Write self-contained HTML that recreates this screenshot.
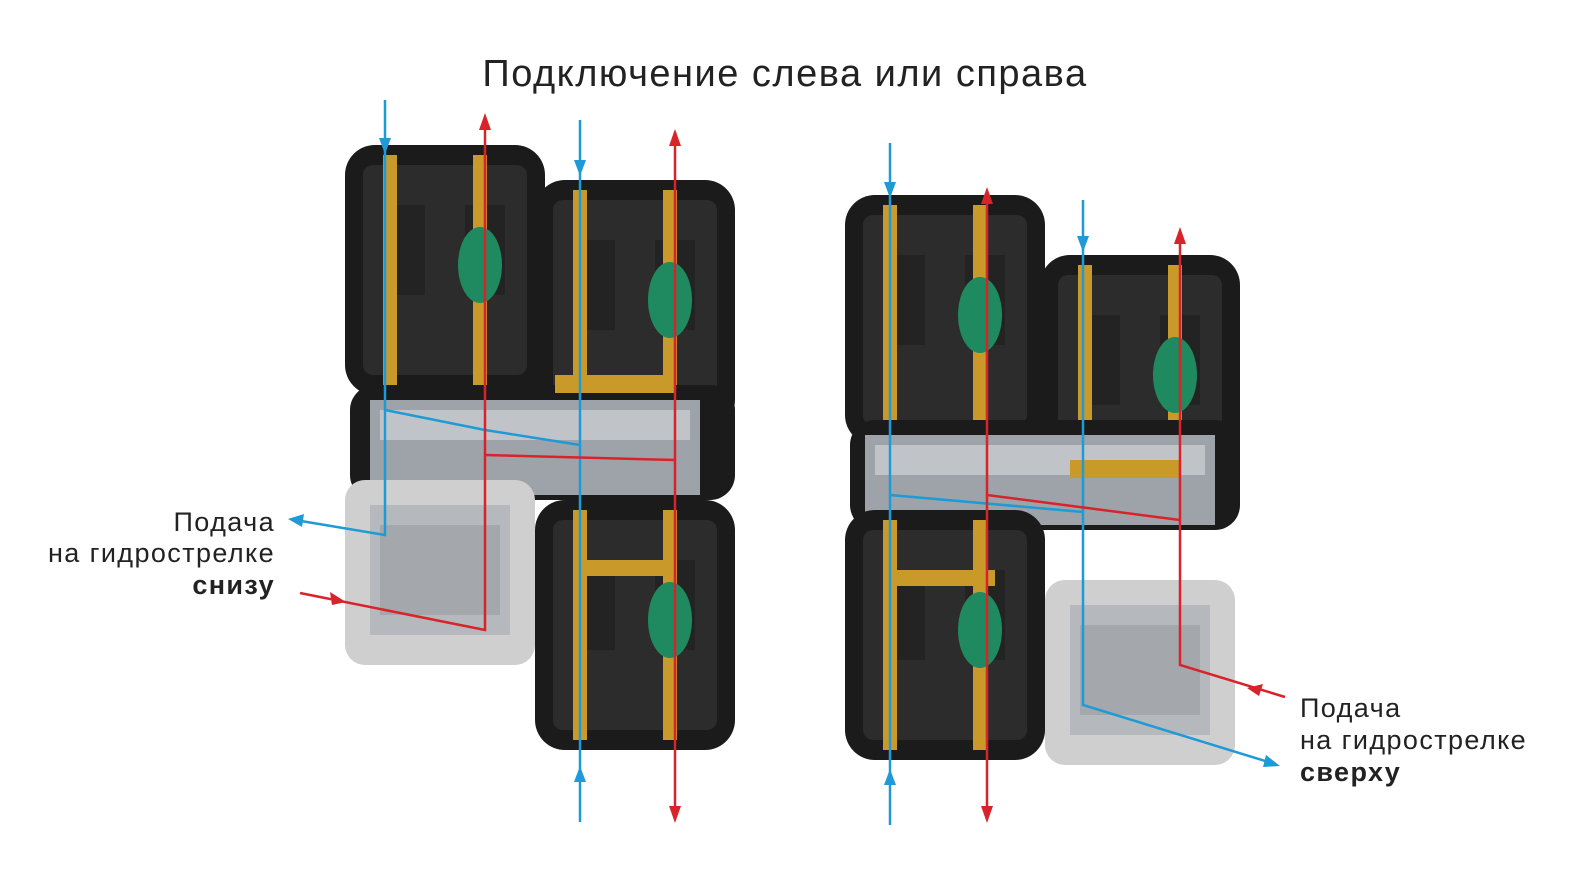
<!DOCTYPE html>
<html><head><meta charset="utf-8"><style>
html,body{margin:0;padding:0;background:#fff;}
svg{display:block;}
text{font-family:"Liberation Sans","DejaVu Sans",sans-serif;fill:#222;}
</style></head><body>
<svg width="1569" height="871" viewBox="0 0 1569 871" xmlns="http://www.w3.org/2000/svg">
<defs>
<g id="blk">
<rect x="0" y="0" width="200" height="250" rx="30" fill="#1b1b1b"/>
<rect x="18" y="20" width="164" height="210" rx="10" fill="#2c2c2c"/>
<rect x="40" y="60" width="40" height="90" fill="#232323"/>
<rect x="120" y="60" width="40" height="90" fill="#232323"/>
<rect x="38" y="10" width="14" height="230" fill="#c99a2a"/>
<rect x="128" y="10" width="14" height="230" fill="#c99a2a"/>
<ellipse cx="135" cy="120" rx="22" ry="38" fill="#1f8a5f"/>
</g>
<g id="box">
<rect x="0" y="0" width="190" height="185" rx="20" fill="#cfcfcf"/>
<rect x="25" y="25" width="140" height="130" fill="#b5b8bc"/>
<rect x="35" y="45" width="120" height="90" fill="#a4a8ad"/>
</g>
</defs>
<text x="785" y="86" text-anchor="middle" font-size="38" letter-spacing="1.5" fill="#333">Подключение слева или справа</text>

<use href="#blk" x="535" y="180"/>
<use href="#blk" x="345" y="145"/>
<rect x="350" y="385" width="385" height="115" rx="25" fill="#1b1b1b"/>
<rect x="370" y="400" width="330" height="95" fill="#9ea3a9"/>
<rect x="380" y="410" width="310" height="30" fill="#c0c4c8"/>
<use href="#blk" x="535" y="500"/>
<use href="#box" x="345" y="480"/>
<rect x="555" y="375" width="120" height="18" fill="#c99a2a"/>
<rect x="575" y="560" width="100" height="16" fill="#c99a2a"/>

<use href="#blk" x="1040" y="255"/>
<use href="#blk" x="845" y="195"/>
<rect x="850" y="420" width="390" height="110" rx="25" fill="#1b1b1b"/>
<rect x="865" y="435" width="350" height="90" fill="#9ea3a9"/>
<rect x="875" y="445" width="330" height="30" fill="#c0c4c8"/>
<use href="#blk" x="845" y="510"/>
<use href="#box" x="1045" y="580"/>
<rect x="1070" y="460" width="110" height="18" fill="#c99a2a"/>
<rect x="895" y="570" width="100" height="16" fill="#c99a2a"/>

<g fill="none" stroke-width="2.5">
<polyline points="385,100 385,410 485,430 580,445" stroke="#1e9ad6"/>
<polyline points="385,410 385,535 295,520" stroke="#1e9ad6"/>
<line x1="580" y1="120" x2="580" y2="822" stroke="#1e9ad6"/>
<polyline points="485,118 485,630 300,593" stroke="#d8232a"/>
<line x1="485" y1="455" x2="675" y2="460" stroke="#d8232a"/>
<line x1="675" y1="132" x2="675" y2="818" stroke="#d8232a"/>

<line x1="890" y1="143" x2="890" y2="825" stroke="#1e9ad6"/>
<line x1="890" y1="495" x2="1083" y2="512" stroke="#1e9ad6"/>
<polyline points="1083,200 1083,705 1275,764" stroke="#1e9ad6"/>
<line x1="987" y1="192" x2="987" y2="818" stroke="#d8232a"/>
<line x1="987" y1="495" x2="1180" y2="520" stroke="#d8232a"/>
<polyline points="1180,232 1180,665 1285,697" stroke="#d8232a"/>
</g>
<g fill="#1e9ad6">
<path d="M379,138 L391,138 L385,154 Z"/>
<path d="M574,160 L586,160 L580,176 Z"/>
<path d="M574,782 L586,782 L580,766 Z"/>
<path d="M304,514 L302,527 L288,519 Z"/>
<path d="M884,182 L896,182 L890,198 Z"/>
<path d="M884,785 L896,785 L890,769 Z"/>
<path d="M1077,236 L1089,236 L1083,252 Z"/>
<path d="M1266,755 L1263,767 L1280,766 Z"/>
</g>
<g fill="#d8232a">
<path d="M479,130 L491,130 L485,113 Z"/>
<path d="M669,146 L681,146 L675,129 Z"/>
<path d="M669,806 L681,806 L675,823 Z"/>
<path d="M330,592 L332,605 L346,602 Z"/>
<path d="M981,204 L993,204 L987,187 Z"/>
<path d="M981,806 L993,806 L987,823 Z"/>
<path d="M1174,244 L1186,244 L1180,227 Z"/>
<path d="M1263,684 L1259,696 L1247,688 Z"/>
</g>

<g font-size="27" letter-spacing="1.4">
<text x="275" y="531" text-anchor="end">Подача</text>
<text x="275" y="562" text-anchor="end">на гидрострелке</text>
<text x="275" y="594" text-anchor="end" font-weight="bold">снизу</text>
<text x="1300" y="717">Подача</text>
<text x="1300" y="749">на гидрострелке</text>
<text x="1300" y="781" font-weight="bold">сверху</text>
</g>
</svg>
</body></html>
